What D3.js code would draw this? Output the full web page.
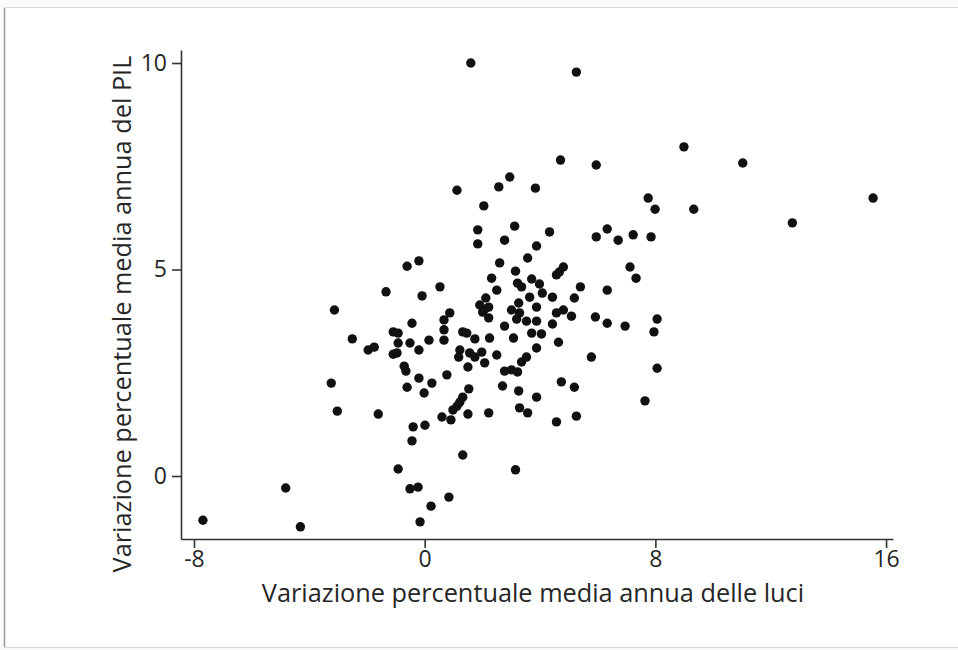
<!DOCTYPE html>
<html>
<head>
<meta charset="utf-8">
<script src="https://cdn.jsdelivr.net/npm/d3@7"></script>
<style>
  html, body { margin: 0; overflow: hidden; background: #fafafa; }
  #scatter svg { display: block; }
  #scatter text { font-family: "Open Sans", sans-serif; fill: #262626; }
  .axis path, .axis line { stroke: #333; stroke-width: 1.6; }
</style>
</head>
<body>
<div id="scatter"></div>
<script>
  // variazione percentuale media annua delle luci (asse x)
  var luci = [-7.69,-4.82,-4.31,-3.13,-3.24,-3.03,-2.51,-1.96,-1.75,-1.34,
    -1.61,1.84,-0.61,-0.20,2.60,2.32,-0.09,0.53,2.50,1.91,
    2.12,2.22,2.01,2.22,2.08,0.87,0.67,-0.44,-1.09,-0.92,
    0.67,1.32,1.46,-0.92,-0.51,0.15,0.67,1.74,2.25,-1.09,
    -0.96,-0.20,1.22,1.18,1.56,1.74,1.98,2.50,2.08,-0.71,
    -0.65,1.50,-0.20,0.77,0.25,-0.61,1.53,-0.02,1.32,1.22,
    1.12,0.98,0.60,0.91,1.50,2.22,-0.40,0.01,-0.44,2.70,
    3.26,3.88,3.29,3.57,1.32,-0.92,3.15,-0.51,-0.23,0.84,
    0.22,-0.16,
    4.71,5.95,1.12,2.57,2.95,3.84,2.05,1.84,3.12,2.77,4.33,3.88,5.95,6.33,6.71,7.23,
    3.57,3.15,4.57,4.67,4.81,7.12,7.33,3.22,3.36,3.71,
    3.98,5.40,6.33,4.08,4.43,5.19,3.64,3.88,3.01,3.26,
    3.29,4.57,4.81,5.09,5.92,6.33,6.95,3.19,3.53,3.88,
    2.77,4.43,3.08,3.71,4.05,4.64,3.88,3.36,3.53,5.78,
    2.77,3.01,3.22,4.74,5.19,4.57,5.26,
    8.99,11.03,7.75,7.99,9.33,15.55,12.75,7.85,8.06,7.95,8.06,7.64,1.60,5.26];

  // variazione percentuale media annua del PIL (asse y)
  var pil = [-1.07,-0.29,-1.23,4.02,2.25,1.57,3.32,3.05,3.12,4.46,
    1.50,5.62,5.08,5.21,5.16,4.79,4.36,4.58,4.50,4.14,
    4.31,4.09,3.97,3.83,4.04,3.95,3.78,3.70,3.49,3.46,
    3.54,3.49,3.46,3.22,3.22,3.29,3.29,3.32,3.34,2.95,
    2.98,3.05,3.05,2.88,2.98,2.88,3.00,2.93,2.74,2.66,
    2.54,2.64,2.37,2.45,2.25,2.15,2.11,2.01,1.91,1.79,
    1.69,1.60,1.43,1.36,1.50,1.53,1.19,1.23,0.85,2.18,
    2.06,1.91,1.65,1.53,0.51,0.17,0.15,-0.31,-0.27,-0.51,
    -0.73,-1.11,
    7.65,7.53,6.92,7.00,7.24,6.97,6.54,5.96,6.05,5.71,5.91,5.57,5.79,5.98,5.71,5.84,
    5.28,4.96,4.87,4.94,5.06,5.06,4.79,4.67,4.58,4.77,
    4.65,4.58,4.50,4.43,4.33,4.31,4.33,4.09,4.02,4.19,
    3.95,3.95,4.02,3.87,3.85,3.70,3.63,3.80,3.75,3.75,
    3.63,3.68,3.34,3.46,3.44,3.24,3.10,2.76,2.88,2.88,
    2.54,2.57,2.52,2.28,2.15,1.31,1.45,
    7.97,7.58,6.73,6.46,6.46,6.73,6.13,5.79,3.80,3.49,2.61,1.82,10.00,9.78];

  var xTicks = [-8, 0, 8, 16];
  var yTicks = [0, 5, 10];
  var xLabel = 'Variazione percentuale media annua delle luci';
  var yLabel = 'Variazione percentuale media annua del PIL';

  var width = 958, height = 650;

  var svg = d3.select('#scatter')
    .append('svg')
    .attr('width', width)
    .attr('height', height);

  // cornice bianca con bordo
  svg.append('rect')
    .attr('x', 4.5).attr('y', 7.5)
    .attr('width', 960).attr('height', 640)
    .attr('fill', '#fff')
    .attr('stroke', '#d8d8d8');
  svg.append('line')
    .attr('x1', 4.5).attr('x2', 4.5)
    .attr('y1', 8).attr('y2', 647)
    .attr('stroke', '#999').attr('stroke-width', 1.5);

  // scale: gli assi vanno da x=181 a 893 e da y=539 a 50
  var xScale = d3.scaleLinear()
    .domain([-8.45, 16.24])
    .range([181, 893]);

  var yScale = d3.scaleLinear()
    .domain([-1.525, 10.315])
    .range([539, 50]);

  var xAxis = d3.axisBottom(xScale)
    .tickValues(xTicks)
    .tickSize(9)
    .tickSizeOuter(0)
    .tickPadding(3)
    .tickFormat(function(d){ return String(d); });

  var yAxis = d3.axisLeft(yScale)
    .tickValues(yTicks)
    .tickSize(9)
    .tickSizeOuter(0)
    .tickPadding(5)
    .tickFormat(function(d){ return String(d); });

  svg.append('g')
    .attr('class', 'x axis')
    .attr('transform', 'translate(0,539)')
    .call(xAxis)
    .selectAll('text')
    .style('font-size', '23px');

  svg.append('g')
    .attr('class', 'y axis')
    .attr('transform', 'translate(181,0)')
    .call(yAxis)
    .selectAll('text')
    .style('font-size', '23px');

  // i punti
  var data = luci.map(function(d, i){ return {x: d, y: pil[i]}; });

  svg.selectAll('.dot')
    .data(data)
    .enter().append('circle')
    .attr('class', 'dot')
    .attr('cx', function(d){ return xScale(d.x); })
    .attr('cy', function(d){ return yScale(d.y); })
    .attr('r', 4.7)
    .style('fill', '#111');

  // etichetta asse x
  svg.append('text')
    .attr('x', 533)
    .attr('y', 602)
    .attr('text-anchor', 'middle')
    .style('font-size', '25.3px')
    .text(xLabel);

  // etichetta asse y
  svg.append('text')
    .attr('transform', 'translate(131,314) rotate(-90)')
    .attr('text-anchor', 'middle')
    .style('font-size', '25.3px')
    .text(yLabel);
</script>
</body>
</html>
